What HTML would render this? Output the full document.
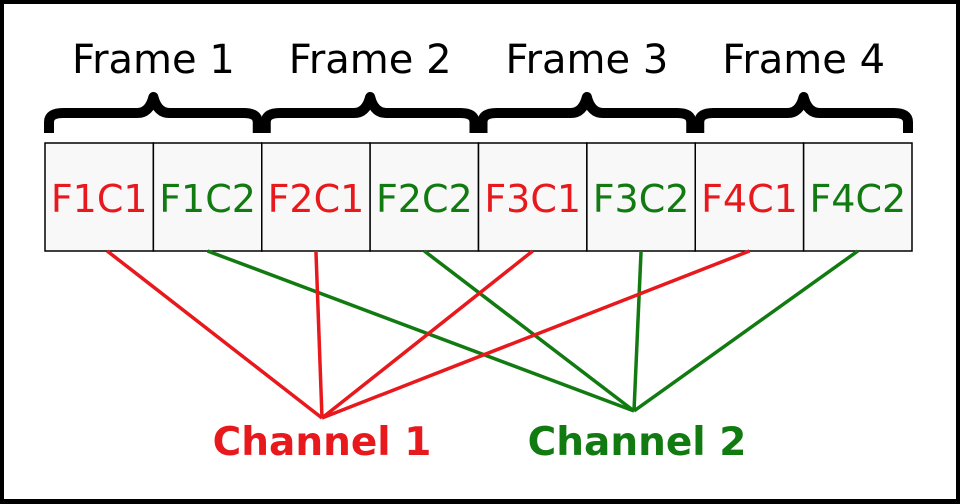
<!DOCTYPE html>
<html><head><meta charset="utf-8"><style>
html,body{margin:0;padding:0;background:#fff}
svg{display:block}
text{font-family:"DejaVu Sans","Liberation Sans",sans-serif}
</style></head><body>
<svg width="960" height="504" viewBox="0 0 960 504">
<rect x="0" y="0" width="960" height="504" fill="#fff"/>
<rect x="1.5" y="1.5" width="957" height="500" fill="none" stroke="#000" stroke-width="5"/>
<g id="frames"></g>
<g id="cells"></g>
<g id="links"></g>
<text x="322" y="455" font-size="39" font-weight="bold" fill="#e8191d" text-anchor="middle">Channel 1</text>
<text x="637" y="455" font-size="39" font-weight="bold" fill="#117a11" text-anchor="middle">Channel 2</text>
</svg>
<script>
const frames=["Frame 1","Frame 2","Frame 3","Frame 4"];
const cells=["F1C1","F1C2","F2C1","F2C2","F3C1","F3C2","F4C1","F4C2"];
const channelOf=[1,2,1,2,1,2,1,2];
const red="#e8191d",green="#117a11";
const NS="http://www.w3.org/2000/svg";
const x0=45,x1=912,topY=143,botY=251,cw=(x1-x0)/cells.length;
const apex={1:[322,418],2:[634,411]};
const fg=document.getElementById('frames'),cg=document.getElementById('cells'),lg=document.getElementById('links');
function mk(tag,attrs,parent){const e=document.createElementNS(NS,tag);for(const k in attrs)e.setAttribute(k,attrs[k]);parent.appendChild(e);return e;}
frames.forEach((f,i)=>{
  const a=x0+i*2*cw+4,b=x0+(i+1)*2*cw-4,m=(a+b)/2;
  const p=mk('path',{d:`M${a},133 L${a},122 Q${a},113 ${a+14},113 L${m-16},113 Q${m-4},113 ${m},97 Q${m+4},113 ${m+16},113 L${b-14},113 Q${b},113 ${b},122 L${b},133`,fill:'none',stroke:'#000','stroke-width':10,'stroke-linejoin':'round'},fg);
  
  
  const t=mk('text',{x:m,y:73,'font-size':40,'text-anchor':'middle',fill:'#000'},fg);
  t.textContent=f;
  
  
});
cells.forEach((c,i)=>{
  const x=x0+i*cw,col=channelOf[i]===1?red:green;
  const r=mk('rect',{x:x,y:topY,width:cw,height:botY-topY,fill:'#f8f8f8',stroke:'#000','stroke-width':1.5},cg);
  
  
  const t=mk('text',{x:x+cw/2,y:212,'font-size':38,'text-anchor':'middle',fill:col},cg);
  t.textContent=c;
  
  
  const ap=apex[channelOf[i]];
  const l=mk('line',{x1:x+cw/2+(i===0?8:0),y1:botY,x2:ap[0],y2:ap[1],stroke:col,'stroke-width':3.5},lg);
  
  
});
</script>
</body></html>
